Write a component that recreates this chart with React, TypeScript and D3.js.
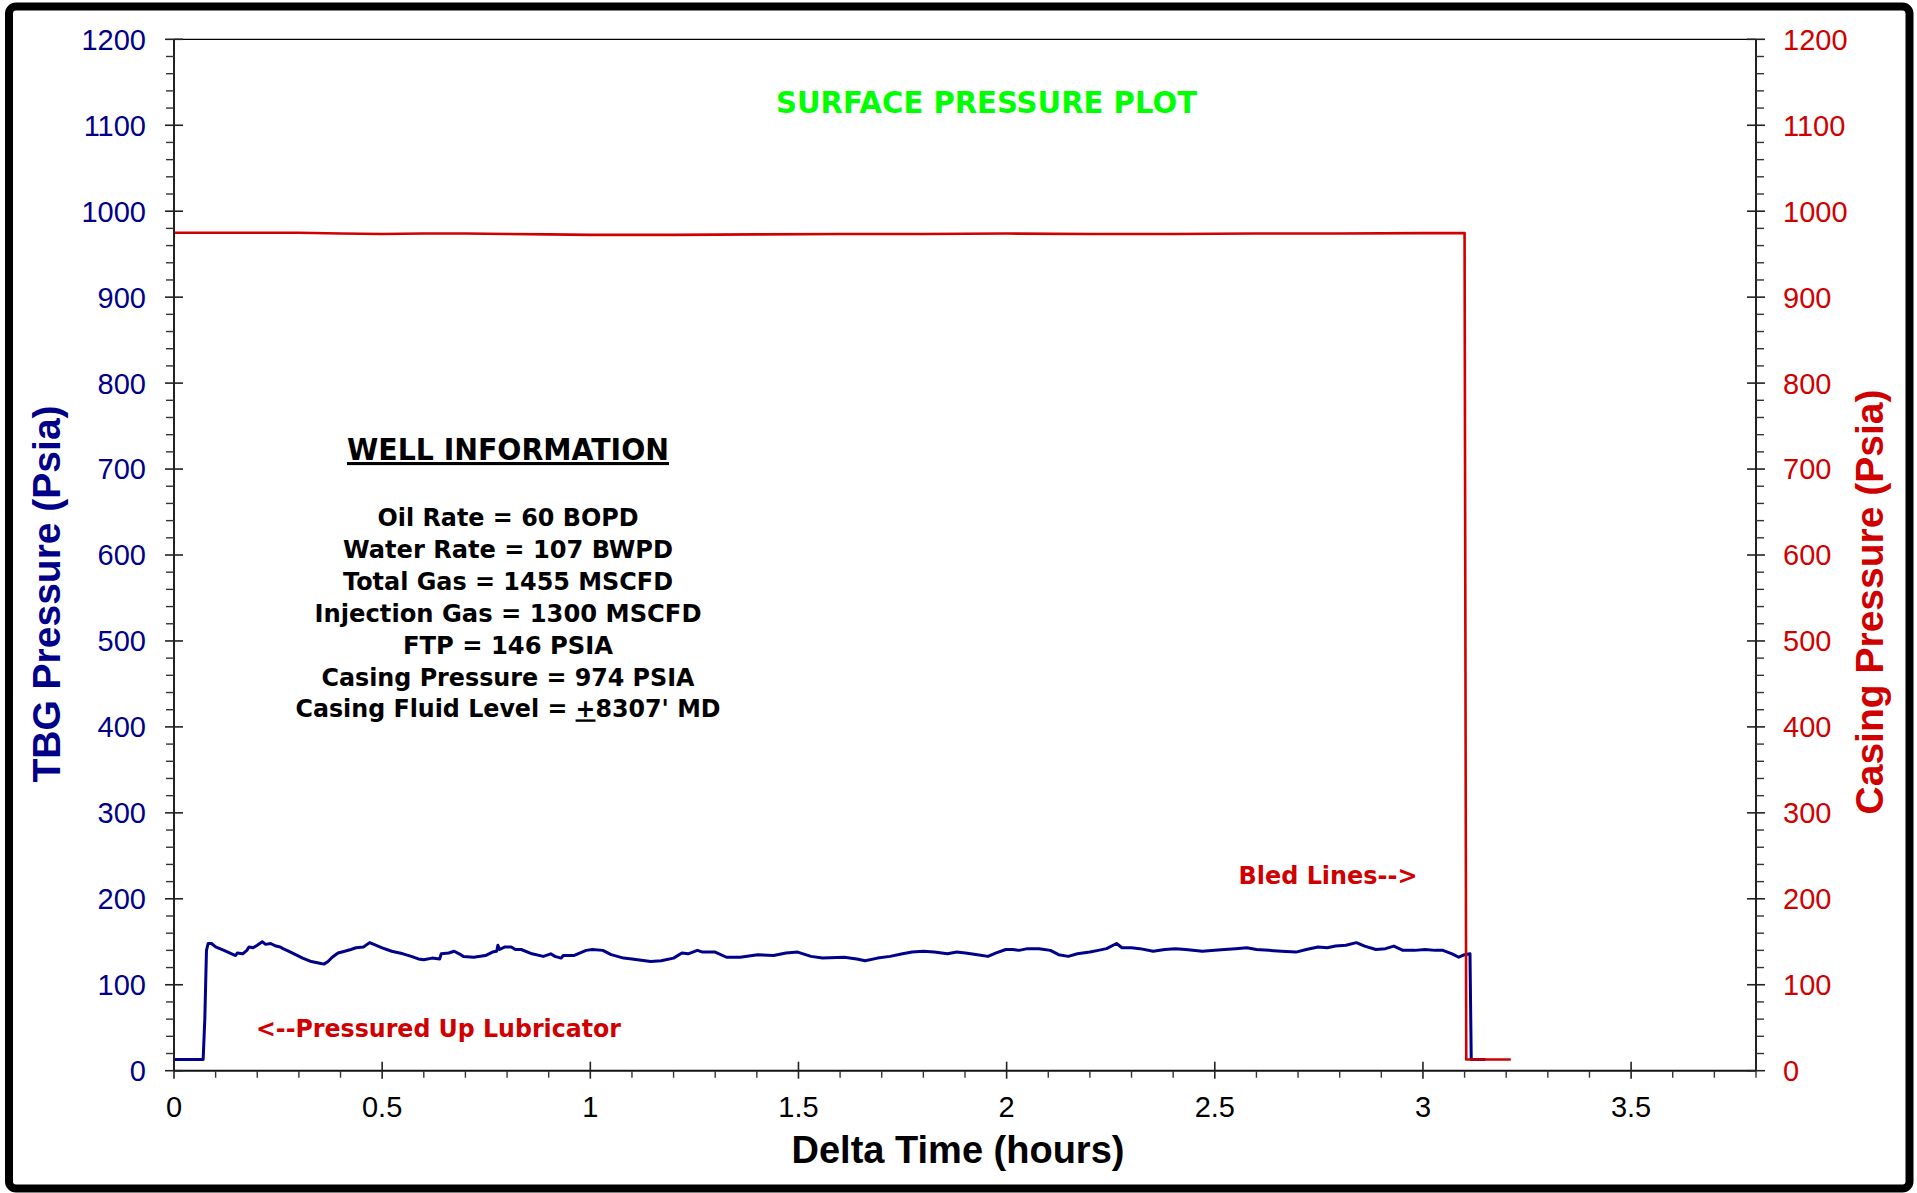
import React from "react";
import * as d3 from "d3";

// ---- data ----
const tbgTime = [
  0, 0.07, 0.074, 0.078, 0.082, 0.09, 0.1, 0.12, 0.148, 0.152, 0.165, 0.175, 0.18, 0.19, 0.2, 0.212, 0.22, 0.232,
  0.245, 0.255, 0.262, 0.28, 0.309, 0.33, 0.35, 0.36, 0.37, 0.38, 0.394, 0.41, 0.425, 0.437, 0.455, 0.47, 0.48,
  0.5, 0.523, 0.55, 0.57, 0.587, 0.6, 0.62, 0.638, 0.642, 0.66, 0.673, 0.685, 0.695, 0.72, 0.748, 0.765, 0.775,
  0.778, 0.782, 0.795, 0.81, 0.82, 0.834, 0.86, 0.887, 0.905, 0.915, 0.93, 0.935, 0.96, 0.99, 1.005, 1.03, 1.05,
  1.08, 1.1, 1.145, 1.17, 1.2, 1.22, 1.235, 1.257, 1.27, 1.3, 1.327, 1.36, 1.402, 1.44, 1.47, 1.498, 1.53, 1.558,
  1.61, 1.64, 1.66, 1.69, 1.72, 1.75, 1.773, 1.8, 1.826, 1.858, 1.88, 1.901, 1.93, 1.955, 1.975, 1.998, 2.015,
  2.03, 2.05, 2.078, 2.105, 2.125, 2.148, 2.17, 2.2, 2.22, 2.24, 2.264, 2.277, 2.3, 2.32, 2.352, 2.38, 2.405, 2.43,
  2.47, 2.5, 2.523, 2.55, 2.577, 2.6, 2.63, 2.66, 2.695, 2.72, 2.748, 2.77, 2.79, 2.815, 2.84, 2.86, 2.887, 2.91,
  2.93, 2.952, 2.98, 3.005, 3.03, 3.048, 3.07, 3.086, 3.1, 3.113, 3.116, 3.15,
];
const tbgPressure = [
  13, 13, 60, 140, 148, 148, 144, 140, 134, 137, 136, 140, 144, 143, 146, 150, 147, 148,
  145, 144, 142, 138, 131, 127, 125, 124, 127, 132, 137, 139, 141, 143, 144, 149, 147,
  143, 139, 136, 133, 130, 129, 131, 130, 136, 137, 139, 136, 133, 132, 134, 138, 139,
  146, 141, 144, 144, 141, 141, 136, 133, 136, 133, 131, 134, 134, 140, 141, 140, 135,
  131, 130, 127, 128, 131, 137, 136, 140, 138, 138, 132, 132, 135, 134, 137, 138, 133, 131,
  132, 130, 128, 131, 133, 136, 138, 139, 138, 136, 138, 137, 135, 133, 137, 141, 141,
  140, 142, 142, 140, 135, 133, 136, 138, 140, 142, 148, 143, 143, 142, 139, 141, 142, 141,
  139, 140, 141, 142, 143, 141, 140, 139, 138, 141, 144, 143, 145, 146, 149, 145, 141, 142,
  145, 140, 140, 141, 140, 140, 136, 132, 135, 136, 13, 13,
];
const casingTime = [0, 0.1, 0.2, 0.3, 0.4, 0.5, 0.6, 0.7, 0.8, 0.9, 1.0, 1.2, 1.4, 1.6, 1.8, 2.0, 2.2, 2.4, 2.6, 2.8, 3.0, 3.1, 3.104, 3.211];
const casingPressure = [975, 975, 975, 975, 974, 973.5, 974, 974, 973.5, 973, 972.5, 972.5, 973, 973.5, 973.5, 974, 973.5, 973.5, 974, 974, 974.5, 974.5, 13, 13];

const titleText = "SURFACE PRESSURE PLOT";
const xTitle = "Delta Time (hours)";
const yLeftTitle = "TBG Pressure (Psia)";
const yRightTitle = "Casing Pressure (Psia)";
const infoHeader = "WELL INFORMATION";
const infoLines = [
  "Oil Rate = 60 BOPD",
  "Water Rate = 107 BWPD",
  "Total Gas = 1455 MSCFD",
  "Injection Gas = 1300 MSCFD",
  "FTP = 146 PSIA",
  "Casing Pressure = 974 PSIA",
];
const fluidLevelParts = ["Casing Fluid Level = ", "+", "8307' MD"];
const noteLubricator = "<--Pressured Up Lubricator";
const noteBled = "Bled Lines-->";

// ---- layout ----
const W = 1917;
const H = 1193;
const L = 174, R = 1756, T = 39.3, B = 1070.7;
const infoWidths = [261, 330, 330, 387, 210, 373, 425];

const BLUE = "#000088";
const RED = "#d00000";
const TAHOMA = "Tahoma, 'DejaVu Sans', sans-serif";
const ARIAL = "Arial, 'Liberation Sans', sans-serif";

export default function App() {
  const x = d3.scaleLinear().domain([0, 3.8]).range([L, R]);
  const y = d3.scaleLinear().domain([0, 1200]).range([B, T]);

  const line = d3
    .line<[number, number]>()
    .x((d) => x(d[0]))
    .y((d) => y(d[1]));

  const tbg = tbgTime.map((t, i) => [t, tbgPressure[i]] as [number, number]);
  const cas = casingTime.map((t, i) => [t, casingPressure[i]] as [number, number]);

  const yMajor = d3.range(0, 1201, 100);
  const yMinor = d3.range(0, 1201, 20).filter((v) => v % 100 !== 0);
  const xMajor = d3.range(0, 3.51, 0.5);
  const xMinor = d3.range(0, 3.81, 0.1).filter((v) => Math.abs(v * 2 - Math.round(v * 2)) > 1e-6);

  const infoCx = 508;
  const infoBase = 526;
  const infoStep = 31.9;

  return (
    <svg
      width={W}
      height={H}
      style={{ position: "absolute", left: 0, top: 0, display: "block", background: "#fff" }}
    >
      <rect x={0} y={0} width={W} height={H} fill="#fff" />
      {/* outer frame */}
      <rect x={9} y={6.5} width={1900.5} height={1182} rx={7} fill="none" stroke="#000" strokeWidth={8} />

      {/* title */}
      <text x={986.5} y={113} textAnchor="middle" fontFamily={TAHOMA} fontWeight="bold" fontSize={31}
        fill="#00ff00" textLength={421} lengthAdjust="spacingAndGlyphs">{titleText}</text>

      {/* plot frame */}
      <line x1={L} x2={R} y1={T} y2={T} stroke="#000" strokeWidth={1.3} />

      {/* series */}
      <path d={line(tbg) || ""} fill="none" stroke={BLUE} strokeWidth={3} strokeLinejoin="round" />
      <path d={line(cas) || ""} fill="none" stroke={RED} strokeWidth={2.6} strokeLinejoin="round" />

      {/* axes */}
      <line x1={L} x2={L} y1={T} y2={B} stroke="#222" strokeWidth={2} />
      <line x1={R} x2={R} y1={T} y2={B} stroke="#222" strokeWidth={2} />
      <line x1={L} x2={R} y1={B} y2={B} stroke="#111" strokeWidth={2} />

      {yMajor.map((v) => (
        <g key={"ym" + v}>
          <line x1={L - 9} x2={L + 9} y1={y(v)} y2={y(v)} stroke="#222" strokeWidth={1.6} />
          <line x1={R - 9} x2={R + 9} y1={y(v)} y2={y(v)} stroke="#222" strokeWidth={1.6} />
          <text x={146} y={y(v)} dy="0.36em" textAnchor="end" fontFamily={ARIAL} fontSize={29} fill={BLUE}>{v}</text>
          <text x={1783} y={y(v)} dy="0.36em" textAnchor="start" fontFamily={ARIAL} fontSize={29} fill={RED}>{v}</text>
        </g>
      ))}
      {yMinor.map((v) => (
        <g key={"yn" + v}>
          <line x1={L - 8} x2={L} y1={y(v)} y2={y(v)} stroke="#333" strokeWidth={1.4} />
          <line x1={R} x2={R + 8} y1={y(v)} y2={y(v)} stroke="#333" strokeWidth={1.4} />
        </g>
      ))}
      {xMajor.map((v) => (
        <g key={"xm" + v}>
          <line x1={x(v)} x2={x(v)} y1={B - 9} y2={B + 8} stroke="#222" strokeWidth={1.6} />
          <text x={x(v)} y={1117} textAnchor="middle" fontFamily={ARIAL} fontSize={29} fill="#000">{d3.format("~g")(v)}</text>
        </g>
      ))}
      {xMinor.map((v) => (
        <line key={"xn" + v} x1={x(v)} x2={x(v)} y1={B} y2={B + 7} stroke="#333" strokeWidth={1.4} />
      ))}

      {/* axis titles */}
      <text x={958} y={1163} textAnchor="middle" fontFamily={ARIAL} fontWeight="bold" fontSize={38} fill="#000">{xTitle}</text>
      <text transform="translate(60,594) rotate(-90)" textAnchor="middle" fontFamily={ARIAL} fontWeight="bold" fontSize={39} fill={BLUE}>{yLeftTitle}</text>
      <text transform="translate(1883,602) rotate(-90)" textAnchor="middle" fontFamily={ARIAL} fontWeight="bold" fontSize={39} fill={RED}>{yRightTitle}</text>

      {/* well information */}
      <text x={infoCx} y={460} textAnchor="middle" fontFamily={TAHOMA} fontWeight="bold" fontSize={31} fill="#000"
        textLength={322} lengthAdjust="spacingAndGlyphs" textDecoration="underline">{infoHeader}</text>
      {infoLines.map((s, i) => (
        <text key={s} x={infoCx} y={infoBase + i * infoStep} textAnchor="middle" fontFamily={TAHOMA} fontWeight="bold"
          fontSize={24} fill="#000" textLength={infoWidths[i]} lengthAdjust="spacingAndGlyphs">{s}</text>
      ))}
      <text x={infoCx} y={infoBase + 6 * infoStep} textAnchor="middle" fontFamily={TAHOMA} fontWeight="bold"
        fontSize={24} fill="#000" textLength={infoWidths[6]} lengthAdjust="spacingAndGlyphs">
        {fluidLevelParts[0]}
        <tspan textDecoration="underline">{fluidLevelParts[1]}</tspan>
        {fluidLevelParts[2]}
      </text>

      {/* annotations */}
      <text x={256} y={1037} fontFamily={TAHOMA} fontWeight="bold" fontSize={24.5} fill={RED}
        textLength={365} lengthAdjust="spacingAndGlyphs">{noteLubricator}</text>
      <text x={1238.5} y={884} fontFamily={TAHOMA} fontWeight="bold" fontSize={24.5} fill={RED}
        textLength={179} lengthAdjust="spacingAndGlyphs">{noteBled}</text>
    </svg>
  );
}
